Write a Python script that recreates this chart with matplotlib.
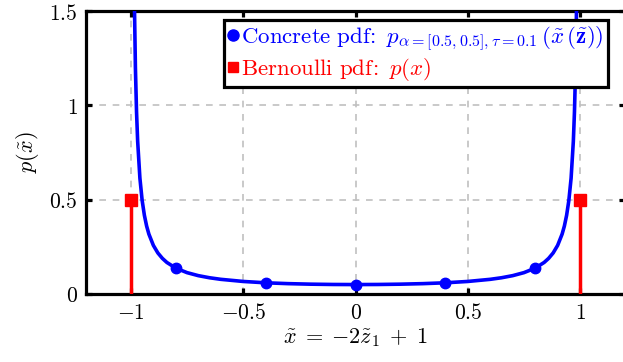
import matplotlib
matplotlib.use("Agg")
import matplotlib.pyplot as plt
from matplotlib.lines import Line2D

plt.rcParams['mathtext.fontset'] = 'cm'
plt.rcParams['font.family'] = ['DejaVu Serif']

# Concrete pdf curve
curve_x = [-0.995, -0.99, -0.985, -0.98, -0.975, -0.97, -0.96, -0.95, -0.94, -0.93,
           -0.92, -0.90, -0.88, -0.86, -0.84, -0.80, -0.75, -0.70, -0.65, -0.60,
           -0.50, -0.40, -0.30, -0.20, -0.10, 0.00, 0.10, 0.20, 0.30, 0.40, 0.50,
           0.60, 0.65, 0.70, 0.75, 0.80, 0.84, 0.86, 0.88, 0.90, 0.92, 0.93, 0.94,
           0.95, 0.96, 0.97, 0.975, 0.98, 0.985, 0.99, 0.995]
curve_y = [4.57, 2.346, 1.583, 1.199, 0.966, 0.810, 0.614, 0.496, 0.417, 0.360,
           0.3175, 0.2576, 0.2175, 0.189, 0.1673, 0.137, 0.1132, 0.0973, 0.0861, 0.0778,
           0.0665, 0.0594, 0.0549, 0.0521, 0.0505, 0.0500, 0.0505, 0.0521, 0.0549, 0.0594, 0.0665,
           0.0778, 0.0861, 0.0973, 0.1132, 0.137, 0.1673, 0.189, 0.2175, 0.2576, 0.3175, 0.360, 0.417,
           0.496, 0.614, 0.810, 0.966, 1.199, 1.583, 2.346, 4.57]

# Concrete pdf markers
marker_x = [-0.8, -0.4, 0.0, 0.4, 0.8]
marker_y = [0.137, 0.0594, 0.050, 0.0594, 0.137]

# Bernoulli pdf
bern_x = [-1.0, 1.0]
bern_y = [0.5, 0.5]

xticks = [-1, -0.5, 0, 0.5, 1]
xtick_labels = [r'$-1$', r'$-0.5$', r'$0$', r'$0.5$', r'$1$']
yticks = [0, 0.5, 1, 1.5]
ytick_labels = [r'$0$', r'$0.5$', r'$1$', r'$1.5$']

blue = '#0000ff'
red = '#ff0000'

fig = plt.figure(figsize=(6.23, 3.62), dpi=100)
ax = fig.add_axes([86/623, 68/362, (625-86)/623, (294-11)/362])

ax.set_xlim(-1.2, 1.2)
ax.set_ylim(0, 1.5)

ax.grid(True, color='#c0c0c0', linestyle=(0, (4, 4)), linewidth=1.2)
ax.set_axisbelow(True)

ax.plot(curve_x, curve_y, color=blue, linewidth=2.6, zorder=3, clip_on=True)
ax.plot(marker_x, marker_y, linestyle='none', marker='o', color=blue,
        markersize=7.5, zorder=4)

for bx, by in zip(bern_x, bern_y):
    ax.plot([bx, bx], [0, by], color=red, linewidth=2.5, zorder=3)
ax.plot(bern_x, bern_y, linestyle='none', marker='s', color=red,
        markersize=8, zorder=4, clip_on=False)

for s in ax.spines.values():
    s.set_linewidth(2.3)
ax.tick_params(direction='in', length=4.5, width=2.3, top=True, right=True,
               labelsize=15.5, pad=6)
ax.set_xticks(xticks)
ax.set_xticklabels(xtick_labels)
ax.set_yticks(yticks)
ax.set_yticklabels(ytick_labels)

ax.set_xlabel(r'$\tilde{x}\;=\;{-2}\tilde{z}_1\;+\;1$', fontsize=16, labelpad=1)
ax.set_ylabel(r'$p(\tilde{x})$', fontsize=16, labelpad=6)

handles = [Line2D([], [], linestyle='none', marker='o', color=blue, markersize=8),
           Line2D([], [], linestyle='none', marker='s', color=red, markersize=7.5)]
labels = [r'$\mathrm{Concrete\ pdf\!:}\ p_{\alpha=[0.5,0.5],\tau=0.1}\,(\tilde{x}\,(\tilde{\mathbf{z}}))$',
          r'$\mathrm{Bernoulli\ pdf\!:}\ p(x)$']
leg = ax.legend(handles, labels, loc='upper right', bbox_to_anchor=(1 - 17/539, 1 - 9/283),
                fontsize=16.5, frameon=True, fancybox=False, handlelength=0.45,
                handletextpad=0.1, borderpad=0.2, labelspacing=0.12,
                borderaxespad=0.0)
leg.get_frame().set_edgecolor('black')
leg.get_frame().set_linewidth(2.3)
leg.get_frame().set_alpha(1)
for t, c in zip(leg.get_texts(), [blue, red]):
    t.set_color(c)

fig.savefig('out.png', dpi=100)
